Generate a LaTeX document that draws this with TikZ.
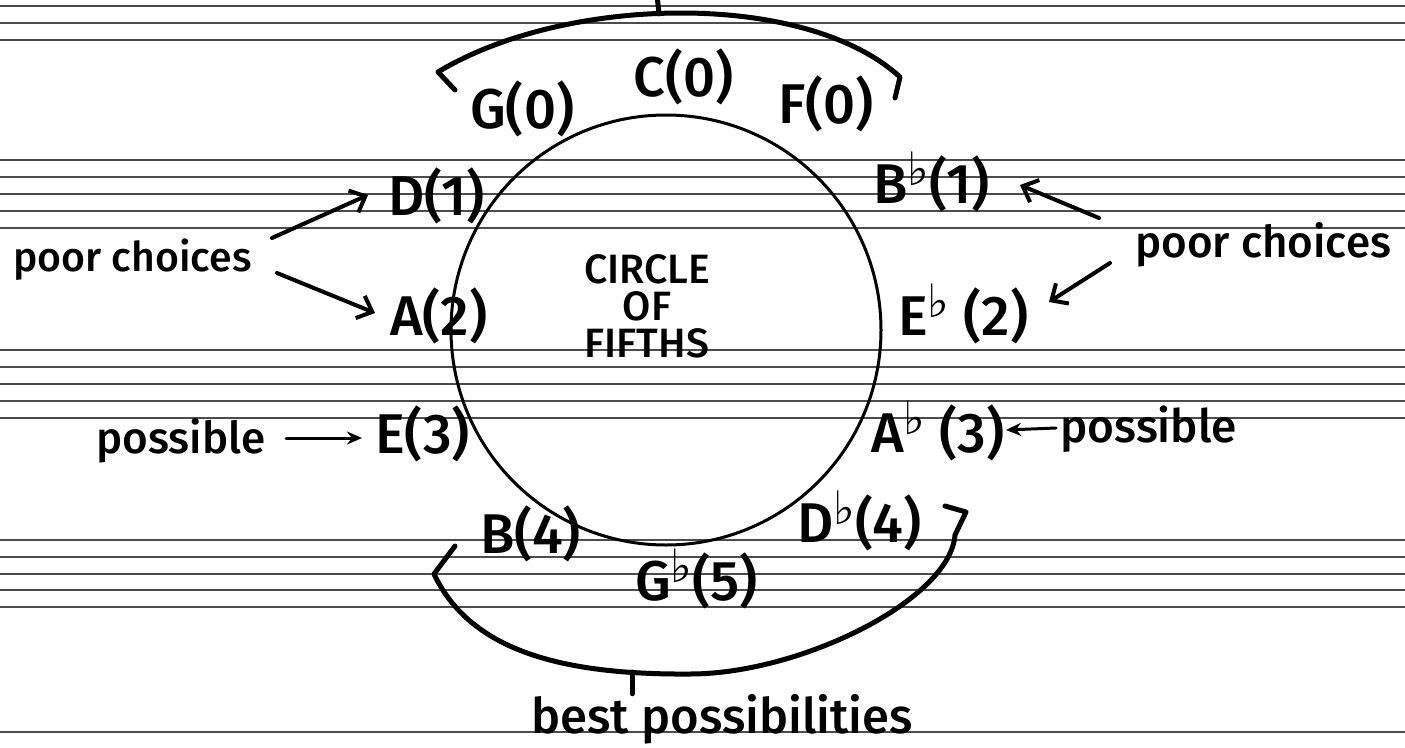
\documentclass[tikz,border=0pt]{standalone}
\usepackage{fontspec}
\setmainfont{Fira Sans Medium}
\newfontfamily\symfont{DejaVu Sans}
\newcommand\flt{\raisebox{18pt}{\symfont\fontsize{46}{46}\selectfont ♭}}
\usetikzlibrary{arrows.meta}
\begin{document}
\begin{tikzpicture}[x=1pt,y=-1pt,
  note/.style={inner sep=0pt, anchor=base west, font=\fontsize{56}{60}\selectfont},
  lab/.style={inner sep=0pt, anchor=base west, font=\fontsize{44}{50}\selectfont},
  staffline/.style={line width=1.8pt, black!70},
  ring/.style={draw, circle, line width=3pt, inner sep=0pt, minimum size=430pt},
  brace/.style={line width=5pt, line cap=round, line join=round},
  arr/.style={line width=4pt, line cap=round, -{Straight Barb[length=13pt,width=24pt,line width=4pt]}},
  smallarr/.style={line width=3pt, line cap=round, -{Stealth[length=15pt,width=13pt]}}]
\useasboundingbox (0,0) rectangle (1405,747);
\fill[white] (0,0) rectangle (1405,747);
% staff paper
\foreach \yy in {6,23,40,160,177,194,211,228,350,367,384,401,418,540,557,574,590,607,732}
  \draw[staffline] (0,\yy) -- (1405,\yy);
% circle
\node[ring] (ring) at (666,330) {};
\node[align=center, inner sep=0pt, font=\fontsize{41}{37}\selectfont] (title) at (647,306) {CIRCLE\\OF\\FIFTHS};
% keys
\node[note] (G0) at (470,128) {G(0)};
\node[note] (C0) at (633,96) {C(0)};
\node[note] (F0) at (778,123) {F(0)};
\node[note] (D1) at (388,215) {D(1)};
\node[note] (A2) at (390,335) {A(2)};
\node[note] (E3) at (375,453) {E(3)};
\node[note] (B4) at (480,553) {B(4)};
\node[note] (Gb5) at (635,600) {G\flt(5)};
\node[note] (Db4) at (797,542) {D\flt(4)};
\node[note] (Ab3) at (871,452) {A\flt\ (3)};
\node[note] (Eb2) at (898,335) {E\flt\ (2)};
\node[note] (Bb1) at (873,203) {B\flt(1)};
% labels
\node[lab, font=\fontsize{41}{48}\selectfont] (lpc) at (13,271) {poor choices};
\node[lab] (rpc) at (1135,257) {poor choices};
\node[lab] (lposs) at (96,453) {possible};
\node[lab, font=\fontsize{46}{50}\selectfont] (rposs) at (1060,442) {possible};
\node[lab, font=\fontsize{49}{54}\selectfont] (best) at (531,733) {best possibilities};
% brackets
\draw[brace] (455,90) -- (438,72) .. controls (565,-5) and (805,-10) .. (900,77) -- (895,98);
\coordinate (toptickA) at (659,14);
\coordinate (toptickB) at (657,-5);
\draw[brace] (toptickA) -- (toptickB);
\draw[brace] (455,546) -- (434,574) .. controls (470,650) and (560,675) .. (690,674)
  .. controls (800,674) and (950,600) .. (955,535) -- (966,512) -- (945,506);
\coordinate (bottickA) at (632,672);
\draw[brace] (bottickA) -- (best.north -| bottickA);
% arrows
\coordinate (a1) at (272,238); \coordinate (a1h) at (368,195);
\coordinate (a2) at (277,273); \coordinate (a2h) at (375,313);
\coordinate (a3) at (1099,218); \coordinate (a3h) at (1020,185);
\coordinate (a4) at (1110,263); \coordinate (a4h) at (1049,302);
\coordinate (a5) at (286,438); \coordinate (a5h) at (362,438);
\coordinate (a6) at (1056,428); \coordinate (a6h) at (1006,430);
\draw[arr] (a1) -- (a1h);
\draw[arr] (a2) -- (a2h);
\draw[arr] (a3) -- (a3h);
\draw[arr] (a4) -- (a4h);
\draw[smallarr] (a5) -- (a5h);
\draw[smallarr] (a6) -- (a6h);
\end{tikzpicture}
\end{document}
